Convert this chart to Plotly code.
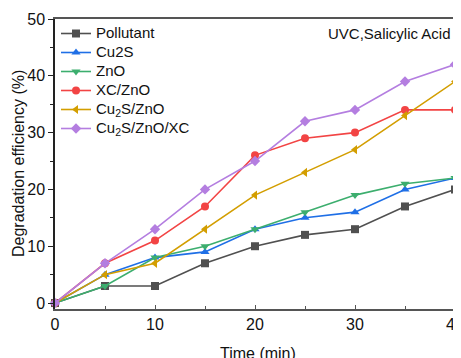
import plotly.graph_objects as go

time = [0, 5, 10, 15, 20, 25, 30, 35, 40]
pollutant = [0, 3, 3, 7, 10, 12, 13, 17, 20]
cu2s = [0, 5, 8, 9, 13, 15, 16, 20, 22]
zno = [0, 3, 8, 10, 13, 16, 19, 21, 22]
xc_zno = [0, 7, 11, 17, 26, 29, 30, 34, 34]
cu2s_zno = [0, 5, 7, 13, 19, 23, 27, 33, 39]
cu2s_zno_xc = [0, 7, 13, 20, 25, 32, 34, 39, 42]

series = [
    ("Pollutant", pollutant, "#505050", "square"),
    ("Cu2S", cu2s, "#1f6fe6", "triangle-up"),
    ("ZnO", zno, "#3cae6e", "triangle-down"),
    ("XC/ZnO", xc_zno, "#f24444", "circle"),
    ("Cu<sub>2</sub>S/ZnO", cu2s_zno, "#d39e00", "triangle-left"),
    ("Cu<sub>2</sub>S/ZnO/XC", cu2s_zno_xc, "#b47ee0", "diamond"),
]

fig = go.Figure()
for name, vals, color, sym in series:
    fig.add_trace(go.Scatter(
        x=time, y=vals, name='<span style="font-size:15px">' + name + '</span>',
        mode="lines+markers",
        line=dict(color=color, width=1.6),
        marker=dict(symbol=sym, size=8, color=color),
        cliponaxis=False,
    ))

font = "Liberation Sans, Arial, sans-serif"
fig.update_layout(
    width=453, height=350,
    margin=dict(l=47, r=0, t=11, b=49),
    paper_bgcolor="white", plot_bgcolor="white",
    font=dict(family=font, size=16, color="#111"),
    showlegend=True,
    legend=dict(x=0.0025, y=1.0, xanchor="left", yanchor="top",
                font=dict(size=12, family=font, color="#111"),
                bgcolor="rgba(0,0,0,0)", tracegroupgap=0,
                itemwidth=30),
    xaxis=dict(range=[0, 40.6], tickvals=[0, 10, 20, 30, 40],
               ticks="inside", ticklen=4, tickwidth=1.2, tickcolor="#555",
               showline=True, linecolor="#555", linewidth=1.5, mirror=True,
               showgrid=False, zeroline=False, automargin=False,
               ticklabeloverflow="allow",
               minor=dict(tickvals=[5, 15, 25, 35], ticks="inside", ticklen=3, tickcolor="#555"),
               tickfont=dict(size=16)),
    yaxis=dict(range=[-1.05, 50], tickvals=[0, 10, 20, 30, 40, 50],
               ticks="outside", ticklen=5, tickwidth=1.2, tickcolor="#222",
               showline=True, linecolor="#222", linewidth=1.5,
               showgrid=False, zeroline=False, automargin=False,
               ticklabeloverflow="allow",
               minor=dict(tickvals=[5, 15, 25, 35, 45], ticks="outside", ticklen=3, tickcolor="#222"),
               tickfont=dict(size=16)),
    annotations=[
        dict(text="UVC,Salicylic Acid", xref="paper", yref="paper",
             x=0.980, y=0.986, xanchor="right", yanchor="top",
             showarrow=False, font=dict(size=15, family=font, color="#111")),
        dict(text="Time (min)", xref="paper", yref="paper",
             x=0.5, y=0, xanchor="center", yanchor="middle", yshift=-44,
             showarrow=False, font=dict(size=16, family=font, color="#111")),
        dict(text="Degradation efficiency (%)", xref="paper", yref="paper",
             x=0, y=0.5, xanchor="center", yanchor="middle", xshift=-37,
             textangle=-90,
             showarrow=False, font=dict(size=16, family=font, color="#111")),
    ],
)

fig.write_html("out.html")
